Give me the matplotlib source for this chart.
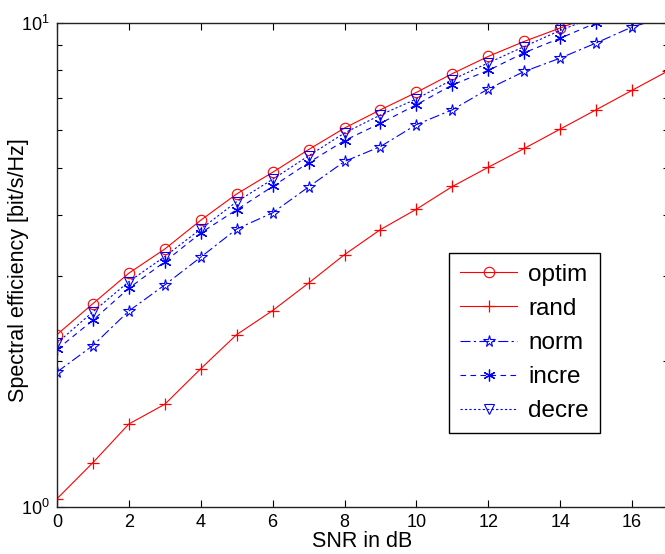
import matplotlib
matplotlib.use("Agg")
import matplotlib.pyplot as plt
from matplotlib.ticker import LogLocator, NullFormatter

plt.rcParams['font.family'] = ['Liberation Sans', 'DejaVu Sans']
plt.rcParams['mathtext.fontset'] = 'custom'
plt.rcParams['mathtext.rm'] = 'Liberation Sans'
plt.rcParams['mathtext.it'] = 'Liberation Sans:italic'
plt.rcParams['mathtext.bf'] = 'Liberation Sans:bold'

snr = list(range(0, 18))
optim = [2.27, 2.63, 3.04, 3.41, 3.91, 4.43, 4.91, 5.47, 6.06, 6.61, 7.18, 7.85, 8.52, 9.15, 9.75, 10.4]
rand = [1.04, 1.235, 1.484, 1.63, 1.93, 2.27, 2.545, 2.90, 3.32, 3.74, 4.12, 4.59, 5.03, 5.50, 6.03, 6.61, 7.25, 7.95]
norm = [1.90, 2.155, 2.54, 2.875, 3.28, 3.75, 4.05, 4.58, 5.17, 5.55, 6.16, 6.61, 7.30, 7.93, 8.45, 9.08, 9.80, 10.3]
incre = [2.115, 2.43, 2.83, 3.21, 3.68, 4.11, 4.59, 5.14, 5.71, 6.20, 6.77, 7.44, 7.97, 8.67, 9.29, 9.99, 10.6]
decre = [2.18, 2.53, 2.92, 3.29, 3.75, 4.27, 4.75, 5.31, 5.92, 6.45, 6.96, 7.63, 8.26, 8.93, 9.64, 10.3]
labels = ['optim', 'rand', 'norm', 'incre', 'decre']
xticks = list(range(0, 17, 2))

W, H = 665, 554
fig = plt.figure(figsize=(W / 100, H / 100), dpi=100)
ax = fig.add_axes([57 / W, (H - 507) / H, 611 / W, (507 - 22.7) / H])

red = (1, 0, 0)
blue = (0, 0, 1)
lw = 0.8
ax.plot(snr[:len(optim)], optim, color=red, lw=lw, marker='o', ms=7.5, mfc='none', mec=red, mew=0.8, label=labels[0])
ax.plot(snr[:len(rand)], rand, color=red, lw=lw, marker='+', ms=9, mew=0.9, label=labels[1])
ax.plot(snr[:len(norm)], norm, color=blue, lw=lw, ls=(0, (9, 3, 2, 3)), marker='*', ms=8.5, mfc='none', mec=blue, mew=0.8, label=labels[2])
ax.plot(snr[:len(incre)], incre, color=blue, lw=lw, ls=(0, (5, 4)), marker=(6, 2, 0), ms=8.5, mew=0.9, label=labels[3])
ax.plot(snr[:len(decre)], decre, color=blue, lw=lw, ls=(0, (2, 2)), marker='v', ms=7.5, mfc='none', mec=blue, mew=0.8, label=labels[4])

ax.set_yscale('log')
ax.set_xlim(0, 17)
ax.set_ylim(1, 10)
ax.set_xticks(xticks)
ax.yaxis.set_major_locator(LogLocator(base=10))
ax.yaxis.set_minor_locator(LogLocator(base=10, subs=range(2, 10)))
ax.yaxis.set_minor_formatter(NullFormatter())

ax.tick_params(which='both', direction='in', top=True, right=True, labelsize=13, colors='black', width=0.8)
ax.tick_params(which='major', length=5, pad=5)
ax.tick_params(which='minor', length=3.5)
for s in ax.spines.values():
    s.set_linewidth(1.0)
    s.set_color('#222222')

ax.set_xlabel('SNR in dB', fontsize=15.5)
ax.xaxis.set_label_coords(0.5, -0.05)
ax.set_ylabel('Spectral efficiency [bit/s/Hz]', fontsize=15.5)
ax.yaxis.set_label_coords(-0.046, 0.49)

leg = ax.legend(loc='upper left', bbox_to_anchor=(0.642, 0.525), fontsize=17.5, frameon=True,
                fancybox=False, framealpha=1, edgecolor='black', handlelength=2.35,
                handletextpad=0.45, labelspacing=0.5, borderpad=0.45, borderaxespad=0)
leg.get_frame().set_linewidth(1.0)

fig.savefig('out.png', dpi=100)
